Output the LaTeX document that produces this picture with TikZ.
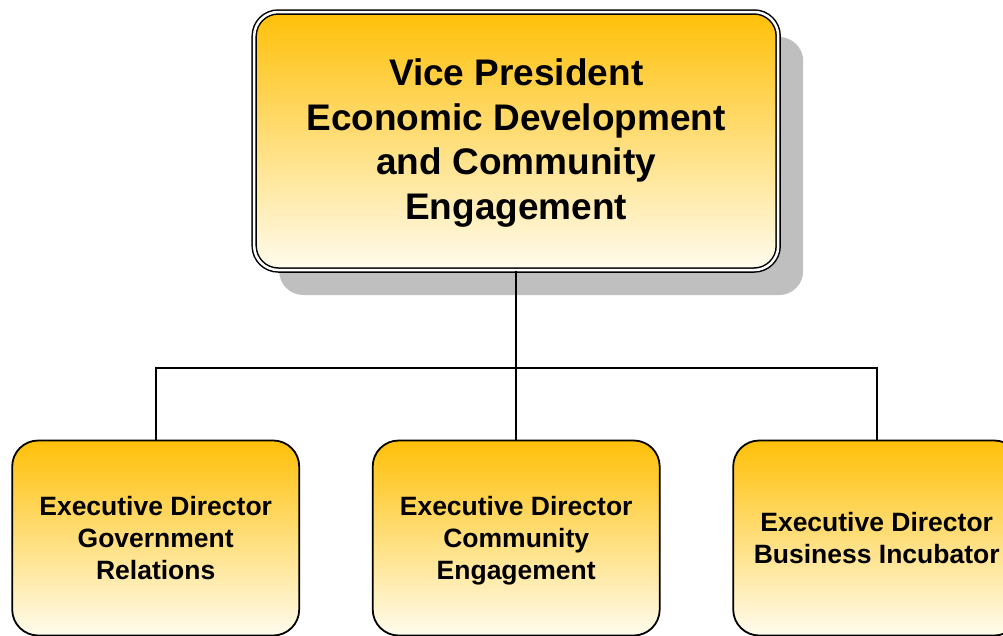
\documentclass[tikz,border=0pt]{standalone}
\usepackage{fontspec}
\setmainfont{Liberation Sans}
\usetikzlibrary{shadows}
\definecolor{OrgGold}{RGB}{255,192,8}
\definecolor{OrgCream}{RGB}{255,252,238}
\newcommand{\nodescender}[2][0pt]{\raisebox{0pt}[\height][#1]{#2}}

\begin{document}
\begin{tikzpicture}[x=1pt, y=1pt, line width=1.8pt, color=black,
      every node/.append style={align=center, inner sep=0pt},
      level distance=397pt, sibling distance=360.5pt,
      edge from parent/.style={draw, line width=2pt},
      edge from parent path={(\tikzparentnode.south) -- ++(0,-97) -| (\tikzchildnode.north)}]
  \tikzstyle{chief} = [rectangle, rounded corners=24pt, draw=black, line width=1.5pt,
      double=white, double distance=2.5pt, top color=OrgGold, bottom color=OrgCream,
      minimum width=524pt, minimum height=258pt,
      drop shadow={shadow xshift=25pt, shadow yshift=-25pt, fill=gray!50, opacity=1},
      font=\fontsize{37}{44.6}\selectfont\bfseries]
  \tikzstyle{director} = [rectangle, rounded corners=26pt, draw=black, line width=1.8pt,
      top color=OrgGold, bottom color=OrgCream, minimum width=287pt, minimum height=195pt,
      font=\fontsize{26.5}{32}\selectfont\bfseries]
  \useasboundingbox (0,0) rectangle (1003,-635);
  \node (VP) [chief] at (516.2,-141) {Vice President\\Economic Development\\and Community\\\nodescender[4pt]{Engagement}}
    child {node (GovRelations) [director] {Executive Director\\Government\\Relations}}
    child {node (CommEngagement) [director] {Executive Director\\Community\\\nodescender{Engagement}}}
    child {node (BizIncubator) [director] {Executive Director\\Business Incubator}};
\end{tikzpicture}
\end{document}
